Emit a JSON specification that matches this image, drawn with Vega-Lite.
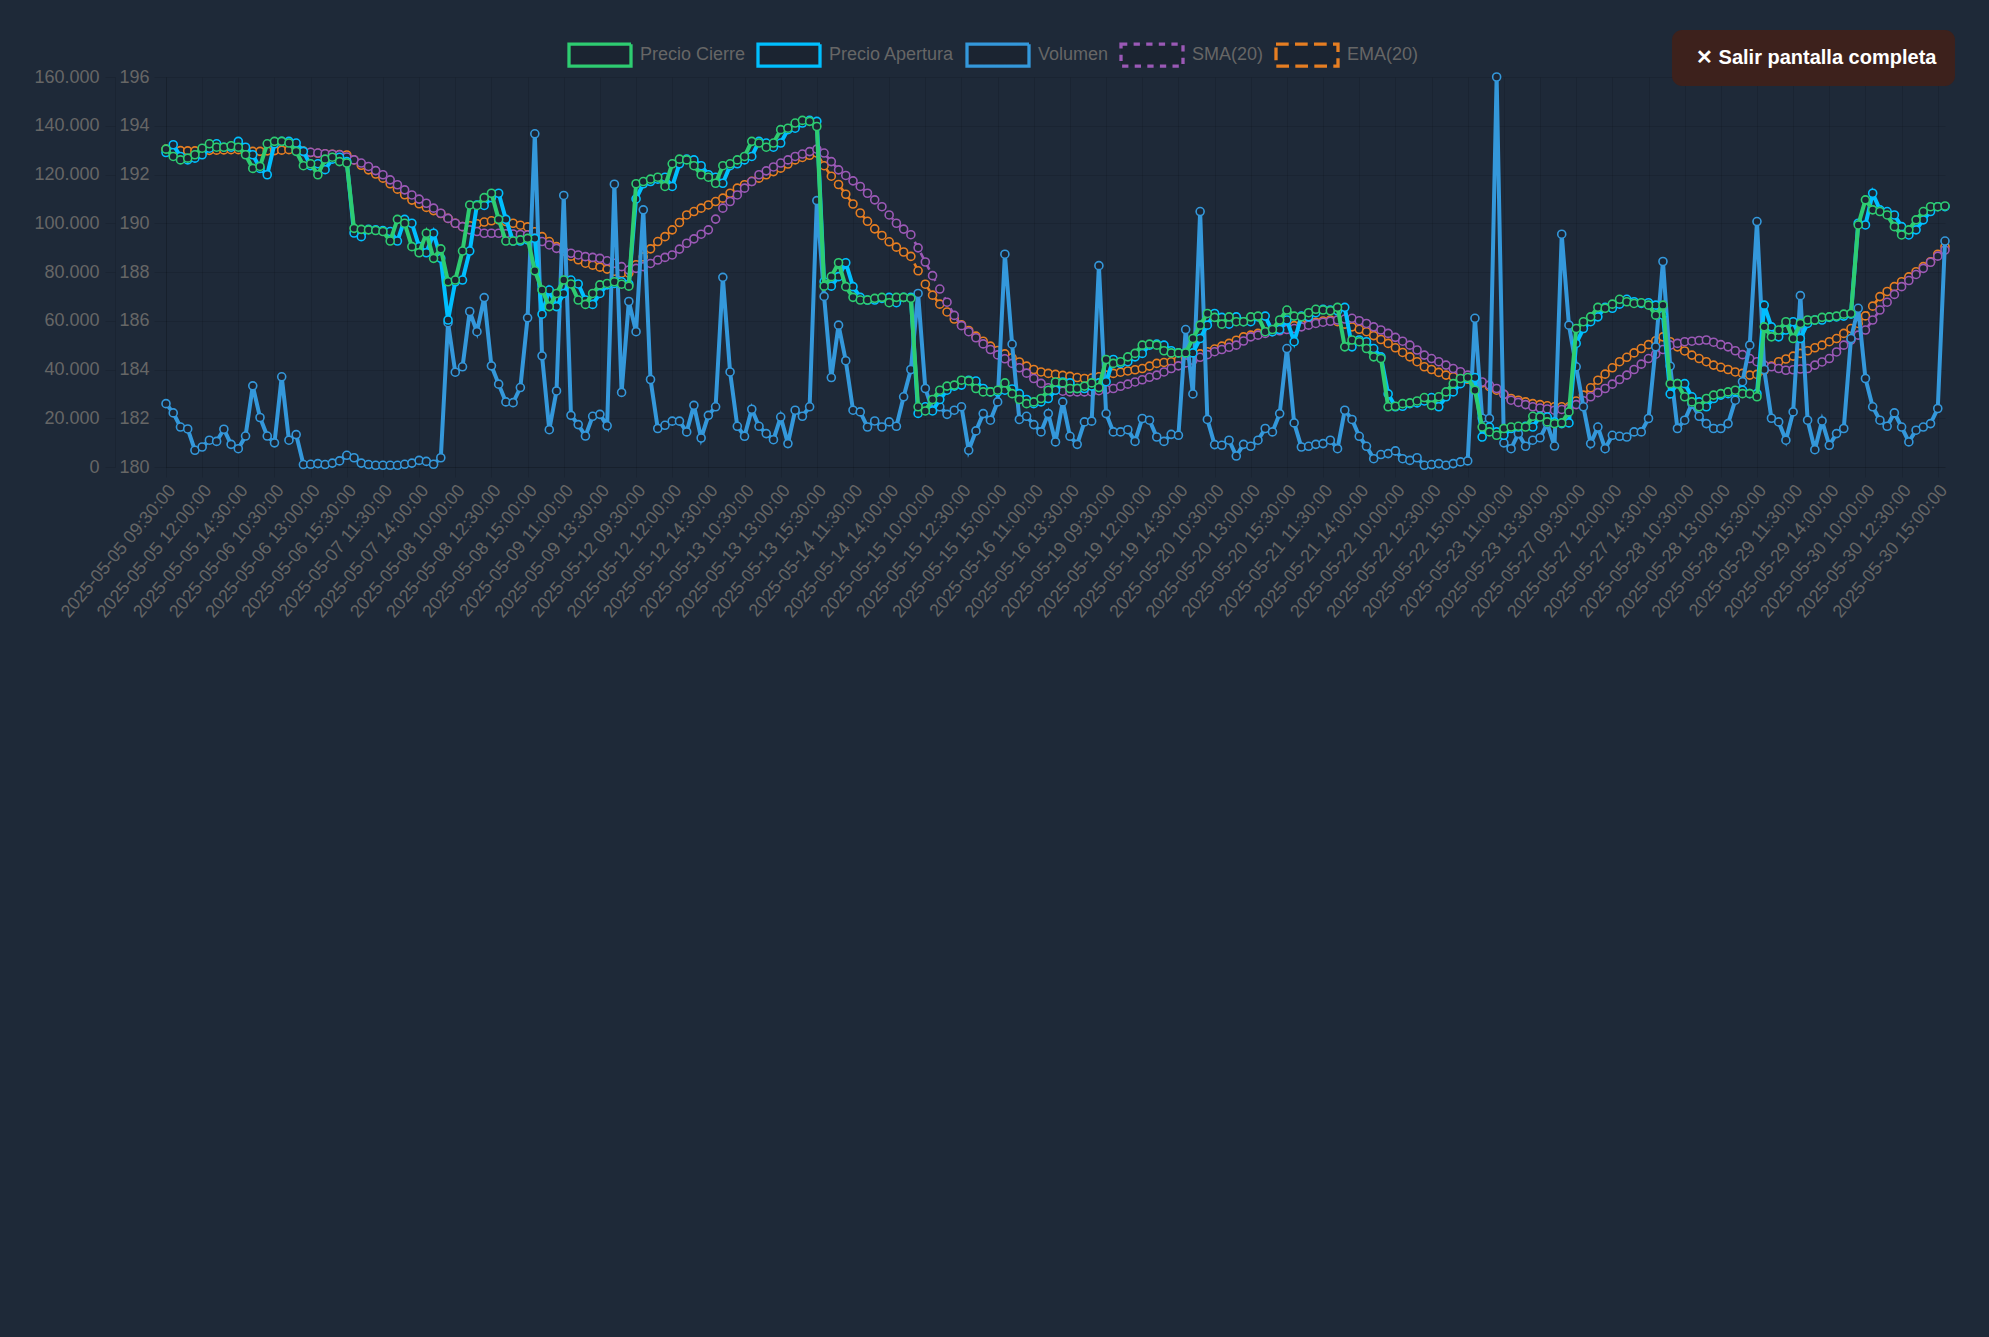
{
"$schema": "https://vega.github.io/schema/vega-lite/v6.json",
"width": 1779, "height": 390,
"autosize": {"type": "none"},
"padding": {"left": 166, "top": 77, "right": 44, "bottom": 870},
"background": "#1e2938",
"config": {"view": {"stroke": null}, "font": "Liberation Sans"},
"data": {"values": [
{"t":"2025-05-05 09:30:00","close":193.04,"open":192.90,"vol":26000,"ema":193.04},
{"t":"2025-05-05 10:00:00","close":192.74,"open":193.22,"vol":22200,"ema":193.01},
{"t":"2025-05-05 10:30:00","close":192.60,"open":192.74,"vol":16400,"ema":192.98},
{"t":"2025-05-05 11:00:00","close":192.67,"open":192.60,"vol":15600,"ema":192.97},
{"t":"2025-05-05 11:30:00","close":192.81,"open":192.67,"vol":6850,"ema":192.97},
{"t":"2025-05-05 12:00:00","close":193.08,"open":192.81,"vol":8200,"ema":192.98},
{"t":"2025-05-05 12:30:00","close":193.26,"open":193.08,"vol":11000,"ema":192.99},
{"t":"2025-05-05 13:00:00","close":193.12,"open":193.26,"vol":10500,"ema":193.00},
{"t":"2025-05-05 13:30:00","close":193.12,"open":193.12,"vol":15500,"ema":193.01},
{"t":"2025-05-05 14:00:00","close":193.18,"open":193.12,"vol":9300,"ema":193.02},
{"t":"2025-05-05 14:30:00","close":193.12,"open":193.36,"vol":7500,"ema":193.02},
{"t":"2025-05-05 15:00:00","close":192.81,"open":193.12,"vol":12700,"ema":193.00},
{"t":"2025-05-05 15:30:00","close":192.25,"open":192.81,"vol":33300,"ema":192.95},
{"t":"2025-05-06 09:30:00","close":192.33,"open":192.25,"vol":20300,"ema":192.95},
{"t":"2025-05-06 10:00:00","close":193.26,"open":191.99,"vol":12700,"ema":192.97},
{"t":"2025-05-06 10:30:00","close":193.36,"open":193.26,"vol":9900,"ema":192.98},
{"t":"2025-05-06 11:00:00","close":193.36,"open":193.36,"vol":37000,"ema":193.00},
{"t":"2025-05-06 11:30:00","close":193.29,"open":193.36,"vol":11000,"ema":193.02},
{"t":"2025-05-06 12:00:00","close":192.95,"open":193.29,"vol":13300,"ema":193.02},
{"t":"2025-05-06 12:30:00","close":192.36,"open":192.95,"vol":1000,"sma":192.94,"ema":192.96},
{"t":"2025-05-06 13:00:00","close":192.44,"open":192.36,"vol":1100,"sma":192.91,"ema":192.90},
{"t":"2025-05-06 13:30:00","close":191.99,"open":192.44,"vol":1400,"sma":192.88,"ema":192.87},
{"t":"2025-05-06 14:00:00","close":192.63,"open":192.20,"vol":1000,"sma":192.85,"ema":192.85},
{"t":"2025-05-06 14:30:00","close":192.71,"open":192.63,"vol":1600,"sma":192.83,"ema":192.83},
{"t":"2025-05-06 15:00:00","close":192.53,"open":192.71,"vol":2500,"sma":192.81,"ema":192.82},
{"t":"2025-05-06 15:30:00","close":192.47,"open":192.53,"vol":4800,"sma":192.72,"ema":192.80},
{"t":"2025-05-07 09:30:00","close":189.79,"open":189.60,"vol":3800,"sma":192.60,"ema":192.60},
{"t":"2025-05-07 10:00:00","close":189.75,"open":189.45,"vol":1600,"sma":192.47,"ema":192.38},
{"t":"2025-05-07 10:30:00","close":189.73,"open":189.75,"vol":1000,"sma":192.33,"ema":192.19},
{"t":"2025-05-07 11:00:00","close":189.70,"open":189.73,"vol":700,"sma":192.16,"ema":192.02},
{"t":"2025-05-07 11:30:00","close":189.66,"open":189.70,"vol":700,"sma":191.99,"ema":191.85},
{"t":"2025-05-07 12:00:00","close":189.27,"open":189.66,"vol":700,"sma":191.78,"ema":191.62},
{"t":"2025-05-07 12:30:00","close":190.16,"open":189.27,"vol":700,"sma":191.58,"ema":191.40},
{"t":"2025-05-07 13:00:00","close":190.00,"open":190.16,"vol":1100,"sma":191.37,"ema":191.17},
{"t":"2025-05-07 13:30:00","close":189.04,"open":190.00,"vol":1600,"sma":191.16,"ema":190.95},
{"t":"2025-05-07 14:00:00","close":188.79,"open":189.04,"vol":2700,"sma":190.99,"ema":190.80},
{"t":"2025-05-07 14:30:00","close":189.59,"open":188.79,"vol":2300,"sma":190.82,"ema":190.65},
{"t":"2025-05-07 15:00:00","close":188.56,"open":189.59,"vol":1100,"sma":190.62,"ema":190.52},
{"t":"2025-05-07 15:30:00","close":188.95,"open":188.56,"vol":3800,"sma":190.41,"ema":190.40},
{"t":"2025-05-08 09:30:00","close":187.60,"open":186.03,"vol":59200,"sma":190.20,"ema":190.20},
{"t":"2025-05-08 10:00:00","close":187.67,"open":187.60,"vol":38900,"sma":190.00,"ema":190.00},
{"t":"2025-05-08 10:30:00","close":188.86,"open":187.67,"vol":41100,"sma":189.86,"ema":189.86},
{"t":"2025-05-08 11:00:00","close":190.75,"open":188.86,"vol":63800,"sma":189.73,"ema":189.90},
{"t":"2025-05-08 11:30:00","close":190.73,"open":190.75,"vol":55500,"sma":189.66,"ema":189.98},
{"t":"2025-05-08 12:00:00","close":191.05,"open":190.73,"vol":69500,"sma":189.59,"ema":190.05},
{"t":"2025-05-08 12:30:00","close":191.23,"open":191.05,"vol":41500,"sma":189.59,"ema":190.10},
{"t":"2025-05-08 13:00:00","close":190.16,"open":191.23,"vol":34000,"sma":189.59,"ema":190.14},
{"t":"2025-05-08 13:30:00","close":189.27,"open":190.16,"vol":26700,"sma":189.57,"ema":190.07},
{"t":"2025-05-08 14:00:00","close":189.27,"open":189.27,"vol":26400,"sma":189.56,"ema":190.00},
{"t":"2025-05-08 14:30:00","close":189.32,"open":189.27,"vol":32600,"sma":189.54,"ema":189.92},
{"t":"2025-05-08 15:00:00","close":189.38,"open":189.32,"vol":61200,"sma":189.52,"ema":189.85},
{"t":"2025-05-08 15:30:00","close":188.05,"open":189.38,"vol":136700,"sma":189.38,"ema":189.65},
{"t":"2025-05-09 09:30:00","close":187.26,"open":186.27,"vol":45600,"sma":189.25,"ema":189.45},
{"t":"2025-05-09 10:00:00","close":186.58,"open":187.26,"vol":15300,"sma":189.11,"ema":189.25},
{"t":"2025-05-09 10:30:00","close":187.12,"open":186.58,"vol":31200,"sma":188.97,"ema":189.04},
{"t":"2025-05-09 11:00:00","close":187.67,"open":187.12,"vol":111400,"sma":188.87,"ema":188.85},
{"t":"2025-05-09 11:30:00","close":187.51,"open":187.67,"vol":21200,"sma":188.77,"ema":188.65},
{"t":"2025-05-09 12:00:00","close":186.85,"open":187.51,"vol":17400,"sma":188.70,"ema":188.50},
{"t":"2025-05-09 12:30:00","close":186.67,"open":186.85,"vol":12700,"sma":188.63,"ema":188.36},
{"t":"2025-05-09 13:00:00","close":187.12,"open":186.67,"vol":20800,"sma":188.60,"ema":188.28},
{"t":"2025-05-09 13:30:00","close":187.47,"open":187.12,"vol":21600,"sma":188.56,"ema":188.20},
{"t":"2025-05-09 14:00:00","close":187.53,"open":187.47,"vol":16900,"sma":188.46,"ema":188.12},
{"t":"2025-05-09 14:30:00","close":187.60,"open":187.53,"vol":116000,"sma":188.36,"ema":188.03},
{"t":"2025-05-09 15:00:00","close":187.50,"open":187.60,"vol":30600,"sma":188.22,"ema":187.95},
{"t":"2025-05-09 15:30:00","close":187.42,"open":187.50,"vol":67900,"sma":188.08,"ema":187.95},
{"t":"2025-05-12 09:30:00","close":191.62,"open":191.00,"vol":55500,"sma":188.15,"ema":188.30},
{"t":"2025-05-12 10:00:00","close":191.71,"open":191.62,"vol":105500,"sma":188.22,"ema":188.62},
{"t":"2025-05-12 10:30:00","close":191.81,"open":191.71,"vol":35900,"sma":188.35,"ema":188.95},
{"t":"2025-05-12 11:00:00","close":191.89,"open":191.81,"vol":15800,"sma":188.49,"ema":189.25},
{"t":"2025-05-12 11:30:00","close":191.51,"open":191.89,"vol":17100,"sma":188.60,"ema":189.45},
{"t":"2025-05-12 12:00:00","close":192.44,"open":191.51,"vol":18800,"sma":188.70,"ema":189.73},
{"t":"2025-05-12 12:30:00","close":192.63,"open":192.44,"vol":18800,"sma":188.94,"ema":190.03},
{"t":"2025-05-12 13:00:00","close":192.60,"open":192.63,"vol":14400,"sma":189.18,"ema":190.34},
{"t":"2025-05-12 13:30:00","close":192.36,"open":192.60,"vol":25300,"sma":189.36,"ema":190.48},
{"t":"2025-05-12 14:00:00","close":191.99,"open":192.36,"vol":11900,"sma":189.55,"ema":190.62},
{"t":"2025-05-12 14:30:00","close":191.89,"open":191.99,"vol":21200,"sma":189.73,"ema":190.75},
{"t":"2025-05-12 15:00:00","close":191.64,"open":191.89,"vol":24700,"sma":190.17,"ema":190.89},
{"t":"2025-05-12 15:30:00","close":192.36,"open":191.64,"vol":77800,"sma":190.62,"ema":191.03},
{"t":"2025-05-13 09:30:00","close":192.44,"open":192.36,"vol":39000,"sma":190.89,"ema":191.23},
{"t":"2025-05-13 10:00:00","close":192.60,"open":192.44,"vol":16700,"sma":191.16,"ema":191.44},
{"t":"2025-05-13 10:30:00","close":192.74,"open":192.60,"vol":12600,"sma":191.44,"ema":191.58},
{"t":"2025-05-13 11:00:00","close":193.36,"open":192.74,"vol":23700,"sma":191.71,"ema":191.72},
{"t":"2025-05-13 11:30:00","close":193.29,"open":193.36,"vol":16700,"sma":191.99,"ema":191.85},
{"t":"2025-05-13 12:00:00","close":193.12,"open":193.29,"vol":13700,"sma":192.15,"ema":191.99},
{"t":"2025-05-13 12:30:00","close":193.29,"open":193.12,"vol":11200,"sma":192.31,"ema":192.12},
{"t":"2025-05-13 13:00:00","close":193.84,"open":193.29,"vol":20500,"sma":192.47,"ema":192.26},
{"t":"2025-05-13 13:30:00","close":193.90,"open":193.84,"vol":9600,"sma":192.60,"ema":192.43},
{"t":"2025-05-13 14:00:00","close":194.11,"open":193.90,"vol":23300,"sma":192.74,"ema":192.60},
{"t":"2025-05-13 14:30:00","close":194.22,"open":194.11,"vol":20800,"sma":192.84,"ema":192.70},
{"t":"2025-05-13 15:00:00","close":194.18,"open":194.22,"vol":24700,"sma":192.94,"ema":192.79},
{"t":"2025-05-13 15:30:00","close":193.97,"open":194.18,"vol":109300,"sma":193.04,"ema":192.88},
{"t":"2025-05-14 09:30:00","close":187.42,"open":187.60,"vol":70000,"sma":192.88,"ema":192.36},
{"t":"2025-05-14 10:00:00","close":187.81,"open":187.42,"vol":36700,"sma":192.53,"ema":191.93},
{"t":"2025-05-14 10:30:00","close":188.38,"open":187.81,"vol":58200,"sma":192.19,"ema":191.59},
{"t":"2025-05-14 11:00:00","close":187.40,"open":188.38,"vol":43600,"sma":191.96,"ema":191.19},
{"t":"2025-05-14 11:30:00","close":186.96,"open":187.40,"vol":23300,"sma":191.74,"ema":190.79},
{"t":"2025-05-14 12:00:00","close":186.85,"open":186.96,"vol":22600,"sma":191.51,"ema":190.42},
{"t":"2025-05-14 12:30:00","close":186.85,"open":186.85,"vol":16400,"sma":191.23,"ema":190.08},
{"t":"2025-05-14 13:00:00","close":186.92,"open":186.85,"vol":18900,"sma":190.96,"ema":189.77},
{"t":"2025-05-14 13:30:00","close":186.96,"open":186.92,"vol":16400,"sma":190.68,"ema":189.50},
{"t":"2025-05-14 14:00:00","close":186.74,"open":186.96,"vol":18500,"sma":190.34,"ema":189.24},
{"t":"2025-05-14 14:30:00","close":186.96,"open":186.74,"vol":16700,"sma":190.00,"ema":189.02},
{"t":"2025-05-14 15:00:00","close":186.96,"open":186.96,"vol":28800,"sma":189.76,"ema":188.82},
{"t":"2025-05-14 15:30:00","close":186.92,"open":186.96,"vol":40000,"sma":189.53,"ema":188.64},
{"t":"2025-05-15 09:30:00","close":182.47,"open":182.20,"vol":71200,"sma":188.99,"ema":188.05},
{"t":"2025-05-15 10:00:00","close":182.30,"open":182.47,"vol":32200,"sma":188.41,"ema":187.50},
{"t":"2025-05-15 10:30:00","close":182.77,"open":182.30,"vol":23300,"sma":187.85,"ema":187.05},
{"t":"2025-05-15 11:00:00","close":183.15,"open":182.77,"vol":24700,"sma":187.30,"ema":186.68},
{"t":"2025-05-15 11:30:00","close":183.32,"open":183.15,"vol":21600,"sma":186.76,"ema":186.36},
{"t":"2025-05-15 12:00:00","close":183.36,"open":183.32,"vol":23300,"sma":186.22,"ema":186.07},
{"t":"2025-05-15 12:30:00","close":183.56,"open":183.36,"vol":24700,"sma":185.80,"ema":185.83},
{"t":"2025-05-15 13:00:00","close":183.53,"open":183.56,"vol":6850,"sma":185.55,"ema":185.60},
{"t":"2025-05-15 13:30:00","close":183.22,"open":183.53,"vol":14800,"sma":185.30,"ema":185.37},
{"t":"2025-05-15 14:00:00","close":183.08,"open":183.22,"vol":21900,"sma":185.05,"ema":185.16},
{"t":"2025-05-15 14:30:00","close":183.08,"open":183.08,"vol":19200,"sma":184.82,"ema":184.96},
{"t":"2025-05-15 15:00:00","close":183.15,"open":183.08,"vol":26700,"sma":184.60,"ema":184.78},
{"t":"2025-05-15 15:30:00","close":183.45,"open":183.15,"vol":87300,"sma":184.44,"ema":184.64},
{"t":"2025-05-16 09:30:00","close":183.01,"open":183.20,"vol":50400,"sma":184.25,"ema":184.48},
{"t":"2025-05-16 10:00:00","close":182.77,"open":183.01,"vol":19500,"sma":184.07,"ema":184.31},
{"t":"2025-05-16 10:30:00","close":182.60,"open":182.77,"vol":20800,"sma":183.85,"ema":184.14},
{"t":"2025-05-16 11:00:00","close":182.67,"open":182.60,"vol":17400,"sma":183.63,"ema":184.00},
{"t":"2025-05-16 11:30:00","close":182.81,"open":182.67,"vol":14400,"sma":183.43,"ema":183.90},
{"t":"2025-05-16 12:00:00","close":183.15,"open":182.81,"vol":21900,"sma":183.25,"ema":183.84},
{"t":"2025-05-16 12:30:00","close":183.49,"open":183.15,"vol":10300,"sma":183.15,"ema":183.80},
{"t":"2025-05-16 13:00:00","close":183.45,"open":183.49,"vol":26700,"sma":183.11,"ema":183.76},
{"t":"2025-05-16 13:30:00","close":183.22,"open":183.45,"vol":12600,"sma":183.08,"ema":183.72},
{"t":"2025-05-16 14:00:00","close":183.22,"open":183.22,"vol":9300,"sma":183.08,"ema":183.67},
{"t":"2025-05-16 14:30:00","close":183.32,"open":183.22,"vol":18500,"sma":183.08,"ema":183.63},
{"t":"2025-05-16 15:00:00","close":183.45,"open":183.32,"vol":18800,"sma":183.08,"ema":183.65},
{"t":"2025-05-16 15:30:00","close":183.26,"open":183.45,"vol":82600,"sma":183.13,"ema":183.70},
{"t":"2025-05-19 09:30:00","close":184.41,"open":183.50,"vol":21900,"sma":183.18,"ema":183.77},
{"t":"2025-05-19 10:00:00","close":184.25,"open":184.41,"vol":14400,"sma":183.22,"ema":183.84},
{"t":"2025-05-19 10:30:00","close":184.32,"open":184.25,"vol":14400,"sma":183.31,"ema":183.89},
{"t":"2025-05-19 11:00:00","close":184.52,"open":184.32,"vol":15300,"sma":183.40,"ema":183.94},
{"t":"2025-05-19 11:30:00","close":184.66,"open":184.52,"vol":10500,"sma":183.49,"ema":183.99},
{"t":"2025-05-19 12:00:00","close":185.00,"open":184.66,"vol":19900,"sma":183.58,"ema":184.04},
{"t":"2025-05-19 12:30:00","close":185.04,"open":185.00,"vol":19200,"sma":183.68,"ema":184.14},
{"t":"2025-05-19 13:00:00","close":185.00,"open":185.04,"vol":12300,"sma":183.77,"ema":184.25},
{"t":"2025-05-19 13:30:00","close":184.77,"open":185.00,"vol":10500,"sma":183.90,"ema":184.29},
{"t":"2025-05-19 14:00:00","close":184.68,"open":184.77,"vol":13400,"sma":184.04,"ema":184.32},
{"t":"2025-05-19 14:30:00","close":184.68,"open":184.68,"vol":13000,"sma":184.15,"ema":184.39},
{"t":"2025-05-19 15:00:00","close":184.68,"open":184.68,"vol":56400,"sma":184.27,"ema":184.45},
{"t":"2025-05-19 15:30:00","close":185.27,"open":184.68,"vol":30000,"sma":184.38,"ema":184.54},
{"t":"2025-05-20 09:30:00","close":185.82,"open":185.27,"vol":104800,"sma":184.50,"ema":184.64},
{"t":"2025-05-20 10:00:00","close":186.30,"open":185.82,"vol":19500,"sma":184.61,"ema":184.73},
{"t":"2025-05-20 10:30:00","close":186.14,"open":186.30,"vol":9200,"sma":184.73,"ema":184.84},
{"t":"2025-05-20 11:00:00","close":185.86,"open":186.14,"vol":8900,"sma":184.82,"ema":184.96},
{"t":"2025-05-20 11:30:00","close":186.16,"open":185.86,"vol":11000,"sma":184.91,"ema":185.07},
{"t":"2025-05-20 12:00:00","close":185.96,"open":186.16,"vol":4500,"sma":185.00,"ema":185.20},
{"t":"2025-05-20 12:30:00","close":185.96,"open":185.96,"vol":9300,"sma":185.17,"ema":185.34},
{"t":"2025-05-20 13:00:00","close":186.16,"open":185.96,"vol":8500,"sma":185.34,"ema":185.41},
{"t":"2025-05-20 13:30:00","close":186.19,"open":186.16,"vol":11000,"sma":185.41,"ema":185.48},
{"t":"2025-05-20 14:00:00","close":185.55,"open":186.19,"vol":15800,"sma":185.48,"ema":185.55},
{"t":"2025-05-20 14:30:00","close":185.64,"open":185.55,"vol":14400,"sma":185.55,"ema":185.62},
{"t":"2025-05-20 15:00:00","close":186.03,"open":185.64,"vol":21900,"sma":185.59,"ema":185.69},
{"t":"2025-05-20 15:30:00","close":186.44,"open":186.03,"vol":48600,"sma":185.64,"ema":185.75},
{"t":"2025-05-21 09:30:00","close":186.19,"open":185.14,"vol":18100,"sma":185.68,"ema":185.80},
{"t":"2025-05-21 10:00:00","close":186.16,"open":186.19,"vol":8200,"sma":185.75,"ema":185.85},
{"t":"2025-05-21 10:30:00","close":186.33,"open":186.16,"vol":8500,"sma":185.82,"ema":185.89},
{"t":"2025-05-21 11:00:00","close":186.47,"open":186.33,"vol":9300,"sma":185.89,"ema":185.94},
{"t":"2025-05-21 11:30:00","close":186.44,"open":186.47,"vol":9600,"sma":185.94,"ema":185.99},
{"t":"2025-05-21 12:00:00","close":186.41,"open":186.44,"vol":11000,"sma":185.98,"ema":186.03},
{"t":"2025-05-21 12:30:00","close":186.55,"open":186.41,"vol":7500,"sma":186.03,"ema":185.96},
{"t":"2025-05-21 13:00:00","close":184.93,"open":186.55,"vol":23300,"sma":186.07,"ema":185.86},
{"t":"2025-05-21 13:30:00","close":185.21,"open":184.93,"vol":19500,"sma":186.10,"ema":185.75},
{"t":"2025-05-21 14:00:00","close":185.14,"open":185.21,"vol":12600,"sma":186.00,"ema":185.65},
{"t":"2025-05-21 14:30:00","close":184.86,"open":185.14,"vol":8500,"sma":185.89,"ema":185.55},
{"t":"2025-05-21 15:00:00","close":184.52,"open":184.86,"vol":3400,"sma":185.75,"ema":185.39},
{"t":"2025-05-21 15:30:00","close":184.45,"open":184.52,"vol":5100,"sma":185.62,"ema":185.23},
{"t":"2025-05-22 09:30:00","close":182.47,"open":183.00,"vol":5500,"sma":185.48,"ema":185.07},
{"t":"2025-05-22 10:00:00","close":182.49,"open":182.47,"vol":6600,"sma":185.32,"ema":184.89},
{"t":"2025-05-22 10:30:00","close":182.60,"open":182.49,"vol":3400,"sma":185.16,"ema":184.70},
{"t":"2025-05-22 11:00:00","close":182.63,"open":182.60,"vol":2700,"sma":185.00,"ema":184.52},
{"t":"2025-05-22 11:30:00","close":182.71,"open":182.63,"vol":3800,"sma":184.80,"ema":184.32},
{"t":"2025-05-22 12:00:00","close":182.85,"open":182.71,"vol":700,"sma":184.59,"ema":184.11},
{"t":"2025-05-22 12:30:00","close":182.53,"open":182.85,"vol":1000,"sma":184.45,"ema":184.00},
{"t":"2025-05-22 13:00:00","close":182.88,"open":182.47,"vol":1400,"sma":184.32,"ema":183.88},
{"t":"2025-05-22 13:30:00","close":183.08,"open":182.88,"vol":700,"sma":184.18,"ema":183.77},
{"t":"2025-05-22 14:00:00","close":183.42,"open":183.08,"vol":1400,"sma":184.04,"ema":183.70},
{"t":"2025-05-22 14:30:00","close":183.63,"open":183.42,"vol":2100,"sma":183.91,"ema":183.63},
{"t":"2025-05-22 15:00:00","close":183.67,"open":183.63,"vol":2500,"sma":183.77,"ema":183.60},
{"t":"2025-05-22 15:30:00","close":183.15,"open":183.67,"vol":61000,"sma":183.63,"ema":183.56},
{"t":"2025-05-23 09:30:00","close":181.64,"open":181.23,"vol":20000,"sma":183.49,"ema":183.45},
{"t":"2025-05-23 10:00:00","close":181.44,"open":181.64,"vol":19900,"sma":183.36,"ema":183.30},
{"t":"2025-05-23 10:30:00","close":181.30,"open":181.44,"vol":160000,"sma":183.22,"ema":183.15},
{"t":"2025-05-23 11:00:00","close":181.58,"open":181.30,"vol":9900,"sma":182.98,"ema":182.98},
{"t":"2025-05-23 11:30:00","close":181.64,"open":181.58,"vol":7500,"sma":182.74,"ema":182.81},
{"t":"2025-05-23 12:00:00","close":181.67,"open":181.64,"vol":13700,"sma":182.65,"ema":182.74},
{"t":"2025-05-23 12:30:00","close":181.64,"open":181.67,"vol":8500,"sma":182.56,"ema":182.67},
{"t":"2025-05-23 13:00:00","close":182.08,"open":181.64,"vol":11000,"sma":182.47,"ema":182.60},
{"t":"2025-05-23 13:30:00","close":182.05,"open":182.08,"vol":12000,"sma":182.42,"ema":182.56},
{"t":"2025-05-23 14:00:00","close":181.85,"open":182.05,"vol":17800,"sma":182.38,"ema":182.51},
{"t":"2025-05-23 14:30:00","close":181.78,"open":181.85,"vol":8600,"sma":182.33,"ema":182.47},
{"t":"2025-05-23 15:00:00","close":181.81,"open":181.78,"vol":95500,"sma":182.36,"ema":182.47},
{"t":"2025-05-23 15:30:00","close":182.26,"open":181.81,"vol":58200,"sma":182.40,"ema":182.47},
{"t":"2025-05-27 09:30:00","close":185.68,"open":185.07,"vol":41100,"sma":182.56,"ema":182.71},
{"t":"2025-05-27 10:00:00","close":185.96,"open":185.68,"vol":24700,"sma":182.72,"ema":182.95},
{"t":"2025-05-27 10:30:00","close":186.16,"open":185.96,"vol":9600,"sma":182.88,"ema":183.25},
{"t":"2025-05-27 11:00:00","close":186.55,"open":186.16,"vol":16400,"sma":183.05,"ema":183.56},
{"t":"2025-05-27 11:30:00","close":186.51,"open":186.55,"vol":7500,"sma":183.22,"ema":183.81},
{"t":"2025-05-27 12:00:00","close":186.68,"open":186.51,"vol":13000,"sma":183.40,"ema":184.07},
{"t":"2025-05-27 12:30:00","close":186.88,"open":186.68,"vol":12600,"sma":183.59,"ema":184.32},
{"t":"2025-05-27 13:00:00","close":186.78,"open":186.88,"vol":12300,"sma":183.77,"ema":184.50},
{"t":"2025-05-27 13:30:00","close":186.71,"open":186.78,"vol":14400,"sma":184.00,"ema":184.68},
{"t":"2025-05-27 14:00:00","close":186.74,"open":186.71,"vol":14400,"sma":184.22,"ema":184.86},
{"t":"2025-05-27 14:30:00","close":186.64,"open":186.74,"vol":19900,"sma":184.45,"ema":185.02},
{"t":"2025-05-27 15:00:00","close":186.23,"open":186.64,"vol":49300,"sma":184.63,"ema":185.18},
{"t":"2025-05-27 15:30:00","close":186.64,"open":186.23,"vol":84300,"sma":184.82,"ema":185.34},
{"t":"2025-05-28 09:30:00","close":183.42,"open":183.00,"vol":41400,"sma":185.00,"ema":185.14},
{"t":"2025-05-28 10:00:00","close":183.42,"open":183.42,"vol":15800,"sma":185.07,"ema":184.93},
{"t":"2025-05-28 10:30:00","close":182.88,"open":183.42,"vol":19200,"sma":185.14,"ema":184.76},
{"t":"2025-05-28 11:00:00","close":182.67,"open":182.88,"vol":26000,"sma":185.16,"ema":184.59},
{"t":"2025-05-28 11:30:00","close":182.47,"open":182.67,"vol":20800,"sma":185.19,"ema":184.45},
{"t":"2025-05-28 12:00:00","close":182.81,"open":182.47,"vol":17800,"sma":185.21,"ema":184.32},
{"t":"2025-05-28 12:30:00","close":182.95,"open":182.81,"vol":15800,"sma":185.12,"ema":184.18},
{"t":"2025-05-28 13:00:00","close":183.01,"open":182.95,"vol":15800,"sma":185.02,"ema":184.09},
{"t":"2025-05-28 13:30:00","close":183.08,"open":183.01,"vol":17800,"sma":184.93,"ema":184.00},
{"t":"2025-05-28 14:00:00","close":183.15,"open":183.08,"vol":27400,"sma":184.77,"ema":183.90},
{"t":"2025-05-28 14:30:00","close":183.01,"open":183.15,"vol":35000,"sma":184.61,"ema":183.84},
{"t":"2025-05-28 15:00:00","close":183.01,"open":183.01,"vol":50000,"sma":184.45,"ema":183.77},
{"t":"2025-05-28 15:30:00","close":182.88,"open":183.01,"vol":100700,"sma":184.32,"ema":183.80},
{"t":"2025-05-29 09:30:00","close":185.75,"open":186.64,"vol":40000,"sma":184.18,"ema":183.97},
{"t":"2025-05-29 10:00:00","close":185.34,"open":185.75,"vol":20000,"sma":184.11,"ema":184.14},
{"t":"2025-05-29 10:30:00","close":185.62,"open":185.34,"vol":18500,"sma":184.04,"ema":184.32},
{"t":"2025-05-29 11:00:00","close":185.96,"open":185.62,"vol":11000,"sma":183.97,"ema":184.43},
{"t":"2025-05-29 11:30:00","close":185.27,"open":185.96,"vol":22600,"sma":183.99,"ema":184.55},
{"t":"2025-05-29 12:00:00","close":185.89,"open":185.27,"vol":70300,"sma":184.02,"ema":184.66},
{"t":"2025-05-29 12:30:00","close":186.03,"open":185.89,"vol":19200,"sma":184.04,"ema":184.77},
{"t":"2025-05-29 13:00:00","close":186.03,"open":186.03,"vol":7100,"sma":184.18,"ema":184.89},
{"t":"2025-05-29 13:30:00","close":186.14,"open":186.03,"vol":18900,"sma":184.31,"ema":185.00},
{"t":"2025-05-29 14:00:00","close":186.16,"open":186.14,"vol":8900,"sma":184.45,"ema":185.14},
{"t":"2025-05-29 14:30:00","close":186.19,"open":186.16,"vol":13700,"sma":184.72,"ema":185.27},
{"t":"2025-05-29 15:00:00","close":186.27,"open":186.19,"vol":15800,"sma":185.00,"ema":185.48},
{"t":"2025-05-29 15:30:00","close":186.30,"open":186.27,"vol":52700,"sma":185.21,"ema":185.68},
{"t":"2025-05-30 09:30:00","close":189.93,"open":190.00,"vol":65100,"sma":185.41,"ema":185.89},
{"t":"2025-05-30 10:00:00","close":190.96,"open":189.93,"vol":36300,"sma":185.62,"ema":186.20},
{"t":"2025-05-30 10:30:00","close":190.55,"open":191.23,"vol":24700,"sma":186.03,"ema":186.60},
{"t":"2025-05-30 11:00:00","close":190.48,"open":190.55,"vol":19200,"sma":186.44,"ema":186.99},
{"t":"2025-05-30 11:30:00","close":190.34,"open":190.48,"vol":16700,"sma":186.76,"ema":187.20},
{"t":"2025-05-30 12:00:00","close":189.86,"open":190.34,"vol":22200,"sma":187.08,"ema":187.40},
{"t":"2025-05-30 12:30:00","close":189.52,"open":189.86,"vol":16400,"sma":187.40,"ema":187.60},
{"t":"2025-05-30 13:00:00","close":189.73,"open":189.52,"vol":10300,"sma":187.65,"ema":187.80},
{"t":"2025-05-30 13:30:00","close":190.14,"open":189.73,"vol":15100,"sma":187.90,"ema":188.01},
{"t":"2025-05-30 14:00:00","close":190.48,"open":190.14,"vol":16400,"sma":188.15,"ema":188.22},
{"t":"2025-05-30 14:30:00","close":190.68,"open":190.48,"vol":17800,"sma":188.40,"ema":188.42},
{"t":"2025-05-30 15:00:00","close":190.68,"open":190.68,"vol":24000,"sma":188.65,"ema":188.73},
{"t":"2025-05-30 15:30:00","close":190.71,"open":190.68,"vol":92700,"sma":188.90,"ema":189.04}
]},
"encoding": {
  "x": {"field": "t", "type": "ordinal", "scale": {"type": "point", "padding": 0},
    "axis": {"values": ["2025-05-05 09:30:00","2025-05-05 12:00:00","2025-05-05 14:30:00","2025-05-06 10:30:00","2025-05-06 13:00:00","2025-05-06 15:30:00","2025-05-07 11:30:00","2025-05-07 14:00:00","2025-05-08 10:00:00","2025-05-08 12:30:00","2025-05-08 15:00:00","2025-05-09 11:00:00","2025-05-09 13:30:00","2025-05-12 09:30:00","2025-05-12 12:00:00","2025-05-12 14:30:00","2025-05-13 10:30:00","2025-05-13 13:00:00","2025-05-13 15:30:00","2025-05-14 11:30:00","2025-05-14 14:00:00","2025-05-15 10:00:00","2025-05-15 12:30:00","2025-05-15 15:00:00","2025-05-16 11:00:00","2025-05-16 13:30:00","2025-05-19 09:30:00","2025-05-19 12:00:00","2025-05-19 14:30:00","2025-05-20 10:30:00","2025-05-20 13:00:00","2025-05-20 15:30:00","2025-05-21 11:30:00","2025-05-21 14:00:00","2025-05-22 10:00:00","2025-05-22 12:30:00","2025-05-22 15:00:00","2025-05-23 11:00:00","2025-05-23 13:30:00","2025-05-27 09:30:00","2025-05-27 12:00:00","2025-05-27 14:30:00","2025-05-28 10:30:00","2025-05-28 13:00:00","2025-05-28 15:30:00","2025-05-29 11:30:00","2025-05-29 14:00:00","2025-05-30 10:00:00","2025-05-30 12:30:00","2025-05-30 15:00:00"],
      "title": null, "labelAngle": -50, "labelAlign": "right", "labelBaseline": "middle",
      "labelFont": "Liberation Sans", "labelFontSize": 18, "labelColor": "#666666", "labelPadding": 10, "labelOffset": 6,
      "labelOverlap": false, "labelBound": false, "labelFlush": false,
      "grid": true, "gridColor": "#000000", "gridOpacity": 0.1,
      "tickColor": "#000000", "tickOpacity": 0.1, "tickSize": 10,
      "domainColor": "#000000", "domainOpacity": 0.1}}
},
"layer": [
  {"transform": [{"fold": ["ema"], "as": ["serie", "valor"]}],
   "mark": {"type": "line", "strokeWidth": 2.6, "strokeDash": [12.7, 6.3]},
   "encoding": {
     "y": {"field": "valor", "type": "quantitative", "scale": {"domain": [180, 196]}, "axis": null},
     "color": {"field": "serie", "type": "nominal",
       "scale": {"domain": ["close", "open", "vol", "sma", "ema"], "range": ["#2ecc71", "#00bfff", "#3498db", "#9b59b6", "#e67e22"]},
       "legend": {"orient": "none", "legendX": 401, "legendY": -55, "direction": "horizontal", "title": null, "padding": 0,
         "symbolType": "M-1,-0.355L1,-0.355L1,0.355L-1,0.355Z", "symbolSize": 3844, "symbolStrokeWidth": 3.3,
         "labelFont": "Liberation Sans", "labelFontSize": 18, "labelColor": "#666666", "labelOffset": 7, "columnPadding": 5, "labelLimit": 0,
         "labelExpr": "datum.label == 'close' ? 'Precio Cierre' : datum.label == 'open' ? 'Precio Apertura' : datum.label == 'vol' ? 'Volumen' : datum.label == 'sma' ? 'SMA(20)' : 'EMA(20)'",
         "encode": {"symbols": {"update": {"fill": {"value": "#1b2431"}, "strokeWidth": {"value": 3.3}, "opacity": {"value": 1},
           "strokeDash": {"signal": "datum.value == 'sma' ? [6.3, 6.3] : datum.value == 'ema' ? [12.7, 6.3] : [1, 0]"}}}}}}
   }},
  {"mark": {"type": "point", "shape": "circle", "filled": false, "fill": "#1c2533", "stroke": "#e67e22", "size": 64, "strokeWidth": 1.6, "opacity": 1},
   "encoding": {"y": {"field": "ema", "type": "quantitative", "scale": {"domain": [180, 196]}, "axis": null}}},
  {"transform": [{"filter": "isValid(datum.sma)"}, {"fold": ["sma"], "as": ["serie", "valor"]}],
   "mark": {"type": "line", "strokeWidth": 2.6, "strokeDash": [6.3, 6.3]},
   "encoding": {
     "y": {"field": "valor", "type": "quantitative", "scale": {"domain": [180, 196]}, "axis": null},
     "color": {"field": "serie", "type": "nominal"}
   }},
  {"transform": [{"filter": "isValid(datum.sma)"}],
   "mark": {"type": "point", "shape": "circle", "filled": false, "fill": "#1c2533", "stroke": "#9b59b6", "size": 64, "strokeWidth": 1.6, "opacity": 1},
   "encoding": {"y": {"field": "sma", "type": "quantitative", "scale": {"domain": [180, 196]}, "axis": null}}},
  {"transform": [{"fold": ["vol"], "as": ["serie", "valor"]}],
   "mark": {"type": "line", "strokeWidth": 4},
   "encoding": {
     "y": {"field": "valor", "type": "quantitative", "scale": {"domain": [0, 160000]},
       "axis": {"values": [0, 20000, 40000, 60000, 80000, 100000, 120000, 140000, 160000], "title": null, "orient": "left", "offset": 51,
         "labelExpr": "replace(format(datum.value, ','), ',', '.')",
         "labelFont": "Liberation Sans", "labelFontSize": 18, "labelColor": "#666666", "labelPadding": 6,
         "tickSize": 10, "tickColor": "#000000", "tickOpacity": 0.1, "domainColor": "#000000", "domainOpacity": 0.1, "grid": false}},
     "color": {"field": "serie", "type": "nominal"}
   }},
  {"mark": {"type": "point", "shape": "circle", "filled": false, "fill": "#1c2533", "stroke": "#3498db", "size": 64, "strokeWidth": 1.6, "opacity": 1},
   "encoding": {"y": {"field": "vol", "type": "quantitative", "scale": {"domain": [0, 160000]}, "axis": null}}},
  {"transform": [{"fold": ["open"], "as": ["serie", "valor"]}],
   "mark": {"type": "line", "strokeWidth": 4},
   "encoding": {
     "y": {"field": "valor", "type": "quantitative", "scale": {"domain": [180, 196]}, "axis": null},
     "color": {"field": "serie", "type": "nominal"}
   }},
  {"mark": {"type": "point", "shape": "circle", "filled": false, "fill": "#1c2533", "stroke": "#00bfff", "size": 64, "strokeWidth": 1.6, "opacity": 1},
   "encoding": {"y": {"field": "open", "type": "quantitative", "scale": {"domain": [180, 196]}, "axis": null}}},
  {"transform": [{"fold": ["close"], "as": ["serie", "valor"]}],
   "mark": {"type": "line", "strokeWidth": 4},
   "encoding": {
     "y": {"field": "valor", "type": "quantitative", "scale": {"domain": [180, 196]},
       "axis": {"values": [180, 182, 184, 186, 188, 190, 192, 194, 196], "title": null, "orient": "left",
         "labelFont": "Liberation Sans", "labelFontSize": 18, "labelColor": "#666666", "labelPadding": 5,
         "tickSize": 12, "tickColor": "#000000", "tickOpacity": 0.1, "domainColor": "#000000", "domainOpacity": 0.1,
         "grid": true, "gridColor": "#000000", "gridOpacity": 0.1}},
     "color": {"field": "serie", "type": "nominal"},
     "opacity": {"datum": "✕ Salir pantalla completa", "type": "nominal", "scale": {"range": [1]},
       "legend": {"orient": "none", "legendX": 1506, "legendY": -47, "title": null, "fillColor": "#3d211c", "cornerRadius": 10, "padding": 18,
         "labelColor": "#ffffff", "labelFontSize": 20, "labelFontWeight": "bold", "labelFont": "Liberation Sans", "labelLimit": 0,
         "symbolOpacity": 0, "symbolSize": 1, "symbolStrokeWidth": 0, "symbolFillColor": "transparent", "symbolStrokeColor": "transparent", "labelOffset": -14}}
   }},
  {"mark": {"type": "point", "shape": "circle", "filled": false, "fill": "#1c2533", "stroke": "#2ecc71", "size": 64, "strokeWidth": 1.6, "opacity": 1},
   "encoding": {"y": {"field": "close", "type": "quantitative", "scale": {"domain": [180, 196]}, "axis": null}}}
],
"resolve": {"scale": {"y": "independent"}}
}
